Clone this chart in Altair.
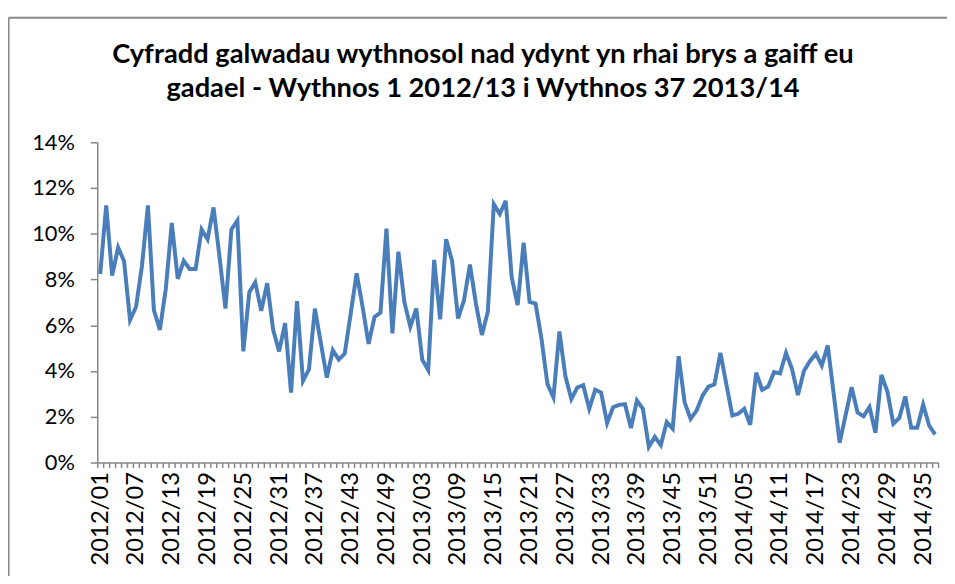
import json
import altair as alt
import pandas as pd

# ---- data -------------------------------------------------------------
years = [2012, 2013, 2014]
weeks_per_year = [52, 52, 37]
week_labels = [f"{y}/{w:02d}" for y, n in zip(years, weeks_per_year) for w in range(1, n + 1)]

rates = [
    8.24, 11.24, 8.17, 9.4, 8.8, 6.23, 6.8, 8.6, 11.24, 6.66,
    5.8, 7.6, 10.47, 8.03, 8.82, 8.46, 8.46, 10.19, 9.76, 11.15,
    9.0, 6.73, 10.19, 10.58, 4.86, 7.45, 7.88, 6.63, 7.84, 5.8,
    4.86, 6.09, 3.06, 7.06, 3.57, 4.07, 6.73, 5.22, 3.71, 4.91,
    4.5, 4.76, 6.5, 8.27, 6.8, 5.19, 6.37, 6.55, 10.23, 5.65,
    9.22, 7.02, 5.94, 6.73, 4.5, 4.04, 8.86, 6.26, 9.76, 8.82,
    6.3, 7.09, 8.65, 6.95, 5.58, 6.59, 11.29, 10.86, 11.44, 8.1,
    6.88, 9.61, 7.02, 6.95, 5.4, 3.42, 2.85, 5.73, 3.78, 2.78,
    3.28, 3.38, 2.35, 3.18, 3.06, 1.73, 2.42, 2.52, 2.55, 1.51,
    2.71, 2.35, 0.69, 1.12, 0.76, 1.77, 1.48, 4.65, 2.63, 1.91,
    2.27, 2.92, 3.32, 3.42, 4.79, 3.42, 2.06, 2.13, 2.35, 1.65,
    3.93, 3.18, 3.32, 3.96, 3.9, 4.79, 4.1, 2.95, 4.0, 4.43,
    4.76, 4.24, 5.12, 3.0, 0.87, 2.08, 3.29, 2.19, 2.02, 2.43,
    1.3, 3.83, 3.1, 1.7, 1.95, 2.89, 1.52, 1.52, 2.53, 1.62,
    1.23,
]

y_ticks = [0, 2, 4, 6, 8, 10, 12, 14]
label_every = 6

title_lines = [
    "Cyfradd galwadau  wythnosol nad ydynt yn rhai brys a gaiff eu",
    "gadael - Wythnos 1 2012/13 i Wythnos 37 2013/14",
]

# ---- chart ------------------------------------------------------------
n = len(rates)
df = pd.DataFrame({"idx": list(range(n)), "week": week_labels[:n], "rate": rates})

W, H = 848, 323
PAD_L, PAD_T = 90, 133
tick_values = [k - 0.5 for k in range(n + 1)]
labels_js = json.dumps(week_labels[:n])
label_expr = (
    f"(round(datum.value + 0.5) % {label_every} == 0 && datum.value < {n - 1}) "
    f"? {labels_js}[round(datum.value + 0.5)] : ''"
)

FONT = "Lato"
AXIS_COL = "#868686"

line = alt.Chart(df).mark_line(color="#4A7EBB", strokeWidth=4).encode(
    x=alt.X(
        "idx:Q",
        scale=alt.Scale(domain=[-0.5, n - 0.5], nice=False, zero=False),
        axis=alt.Axis(
            values=tick_values,
            labelExpr=label_expr,
            labelAngle=-90,
            labelOverlap=False,
            labelFlush=False,
            labelBound=False,
            labelOffset=W / n / 2,
            labelPadding=4,
            labelFontSize=24,
            tickSize=5,
            grid=False,
            title=None,
        ),
    ),
    y=alt.Y(
        "rate:Q",
        scale=alt.Scale(domain=[0, 14], nice=False, zero=True),
        axis=alt.Axis(
            values=y_ticks,
            labelExpr="datum.value + '%'",
            labelFontSize=22,
            labelPadding=16,
            tickSize=7,
            grid=False,
            title=None,
        ),
    ),
)

frame_data = alt.Data(values=[{"f": 1}])
frame_v = alt.Chart(frame_data).mark_rule(color=AXIS_COL, strokeWidth=2).encode(
    x=alt.value(8.5 - 8 - PAD_L), y=alt.value(15.5 - 8 - PAD_T), y2=alt.value(470)
)
frame_h = alt.Chart(frame_data).mark_rule(color=AXIS_COL, strokeWidth=2).encode(
    x=alt.value(8.5 - 8 - PAD_L), x2=alt.value(880), y=alt.value(15.5 - 8 - PAD_T)
)
title_text = alt.Chart(frame_data).mark_text(
    font=FONT,
    fontSize=27.5,
    fontWeight="bold",
    color="#000000",
    align="center",
    baseline="top",
    lineHeight=34,
).encode(x=alt.value(487 - 8 - PAD_L), y=alt.value(39 - 8 - PAD_T), text=alt.value(title_lines))

chart = (
    alt.layer(frame_v, frame_h, title_text, line)
    .properties(
        width=W,
        height=H,
        autosize=alt.AutoSizeParams(type="none"),
        padding={"left": PAD_L, "top": PAD_T, "right": 955 - 16 - PAD_L - W + 8, "bottom": 112},
        background="white",
    )
    .configure_view(stroke=None)
    .configure_axis(
        domainColor=AXIS_COL,
        tickColor=AXIS_COL,
        domainWidth=1.5,
        tickWidth=1.5,
        labelColor="#000000",
        labelFont=FONT,
    )
)

chart.save("out.html", embed_options={"renderer": "svg", "actions": False})
